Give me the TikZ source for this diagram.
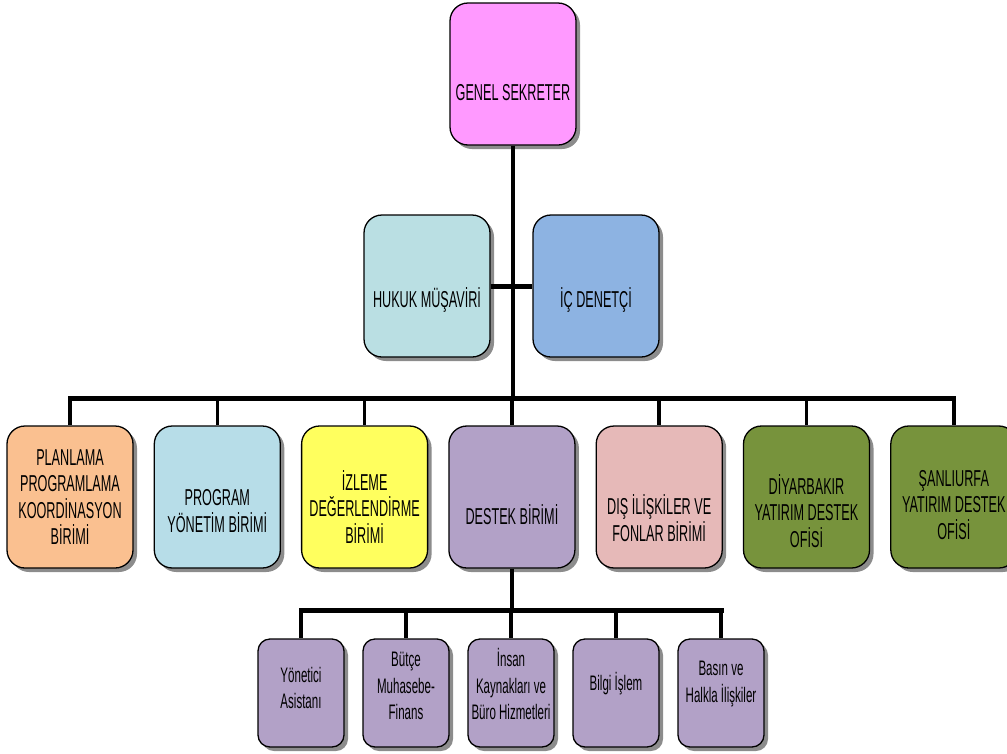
\documentclass[tikz,border=0pt]{standalone}
\usepackage{fontspec}
\setmainfont{Liberation Sans}[FakeStretch=0.55]
\usepackage{xcolor}
\usepackage{tikz}
\usetikzlibrary{shadows, positioning}

\definecolor{gsPink}{HTML}{FF99FF}
\definecolor{hukukCyan}{HTML}{BADFE3}
\definecolor{icBlue}{HTML}{8DB3E2}
\definecolor{planOrange}{HTML}{FAC090}
\definecolor{progCyan}{HTML}{B7DDE8}
\definecolor{izleYellow}{HTML}{FFFF5E}
\definecolor{destekLilac}{HTML}{B2A1C7}
\definecolor{disRose}{HTML}{E6B9B8}
\definecolor{ofisGreen}{HTML}{77933C}

\begin{document}
\begin{tikzpicture}[
    x=1pt, y=-1pt,
    node distance=20pt,
    unit/.style={rectangle, draw, line width=1.3pt, rounded corners=18pt, minimum width=126pt, minimum height=142pt, inner sep=0pt,
        drop shadow={shadow xshift=4pt, shadow yshift=-4pt, fill=black!50, opacity=0.9}},
    subunit/.style={unit, rounded corners=12pt, minimum width=86pt, minimum height=108pt},
    txt/.style={align=center, font=\fontsize{23}{26.5}\selectfont},
    subtxt/.style={txt, font=\fontsize{21}{26.5}\selectfont},
    link/.style={line width=3.5pt},
    bus/.style={line width=5pt, line cap=rect}
]

\useasboundingbox (0,0) rectangle (1007,753);

% Top
\node[unit, fill=gsPink] (gs) at (513,74) {};
\node[txt] (gsT) at ([yshift=-19pt]gs.center) {GENEL SEKRETER};

% Advisors
\node[unit, fill=hukukCyan] (hukuk) at (427,286) {};
\node[unit, fill=icBlue] (ic) at (596,286) {};
\node[txt] (hukukT) at ([yshift=-14pt]hukuk.center) {HUKUK MÜŞAVİRİ};
\node[txt] (icT) at ([yshift=-14pt]ic.center) {İÇ DENETÇİ};

% Units row
\node[unit, fill=planOrange] (plan) at (70,497) {};
\node[unit, fill=progCyan, right=of plan] (prog) {};
\node[unit, fill=izleYellow, right=of prog] (izle) {};
\node[unit, fill=destekLilac, right=of izle] (destek) {};
\node[unit, fill=disRose, right=of destek] (dis) {};
\node[unit, fill=ofisGreen, right=of dis] (diyar) {};
\node[unit, fill=ofisGreen, right=of diyar] (sanli) {};

\node[txt] (planT) at (plan.center) {PLANLAMA\\PROGRAMLAMA\\KOORDİNASYON\\BİRİMİ};
\node[txt] (progT) at ([yshift=-14pt]prog.center) {PROGRAM\\YÖNETİM BİRİMİ};
\node[txt] (izleT) at ([yshift=-10pt]izle.center) {İZLEME\\DEĞERLENDİRME\\BİRİMİ};
\node[txt] (destekT) at ([yshift=-18pt]destek.center) {DESTEK BİRİMİ};
\node[txt] (disT) at ([yshift=-21pt]dis.center) {DIŞ İLİŞKİLER VE\\FONLAR BİRİMİ};
\node[txt] (diyarT) at ([yshift=-14pt]diyar.center) {DİYARBAKIR\\YATIRIM DESTEK\\OFİSİ};
\node[txt] (sanliT) at ([yshift=-8pt]sanli.center) {ŞANLIURFA\\YATIRIM DESTEK\\OFİSİ};

% Destek sub-units
\node[subunit, fill=destekLilac] (yon) at (301,693) {};
\node[subunit, fill=destekLilac, right=17.7pt of yon] (butce) {};
\node[subunit, fill=destekLilac, right=17.7pt of butce] (insan) {};
\node[subunit, fill=destekLilac, right=17.7pt of insan] (bilgi) {};
\node[subunit, fill=destekLilac, right=17.7pt of bilgi] (basin) {};

\node[subtxt] (yonT) at ([yshift=5pt]yon.center) {Yönetici\\Asistanı};
\node[subtxt] (butceT) at ([yshift=7pt]butce.center) {Bütçe\\Muhasebe-\\Finans};
\node[subtxt] (insanT) at ([yshift=9pt]insan.center) {İnsan\\Kaynakları ve\\Büro Hizmetleri};
\node[subtxt] (bilgiT) at ([yshift=9pt]bilgi.center) {Bilgi İşlem};
\node[subtxt] (basinT) at ([yshift=9pt]basin.center) {Basın ve\\Halkla İlişkiler};

% Connectors
\coordinate (bus) at (513,398);
\coordinate (subbus) at (512,610);
\draw[link] (gs.south) -- (bus);
\draw[bus, line cap=butt] (hukuk.east) -- (ic.west);
\draw[bus] (plan.north |- bus) -- (sanli.north |- bus);
\foreach \n in {plan,prog,izle,destek,dis,diyar,sanli}
    \draw[link] (\n.north |- bus) -- (\n.north);
\draw[link] (destek.south) -- (destek.south |- subbus);
\draw[bus] (yon.north |- subbus) -- (basin.north |- subbus);
\foreach \n in {yon,butce,insan,bilgi,basin}
    \draw[link] (\n.north |- subbus) -- (\n.north);

\end{tikzpicture}
\end{document}
